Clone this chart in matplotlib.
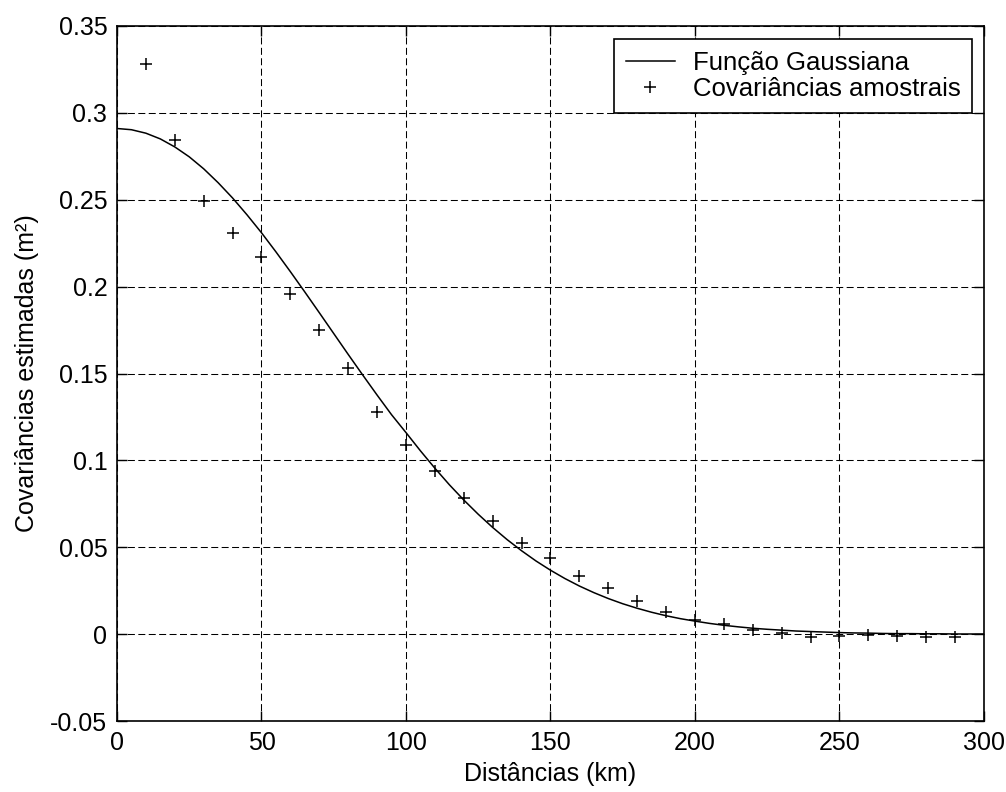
import matplotlib
matplotlib.use("Agg")
import matplotlib.pyplot as plt

matplotlib.rcParams["font.family"] = ["Liberation Sans", "DejaVu Sans"]

# curva gaussiana ajustada (passo de 5 km)
dist_curva = [0, 5, 10, 15, 20, 25, 30, 35, 40, 45, 50, 55, 60, 65, 70, 75,
              80, 85, 90, 95, 100, 105, 110, 115, 120, 125, 130, 135, 140, 145,
              150, 155, 160, 165, 170, 175, 180, 185, 190, 195, 200, 205, 210,
              215, 220, 225, 230, 235, 240, 245, 250, 255, 260, 265, 270, 275,
              280, 285, 290, 295, 300]
cov_curva = [0.2910, 0.2903, 0.2883, 0.2850, 0.2804, 0.2747, 0.2678, 0.2598,
             0.2510, 0.2413, 0.2310, 0.2200, 0.2086, 0.1969, 0.1850, 0.1730,
             0.1610, 0.1492, 0.1376, 0.1263, 0.1160, 0.1055, 0.0955, 0.0860,
             0.0772, 0.0690, 0.0614, 0.0544, 0.0480, 0.0421, 0.0368, 0.0320,
             0.0277, 0.0239, 0.0205, 0.0175, 0.0149, 0.0126, 0.0106, 0.0089,
             0.0075, 0.0062, 0.0051, 0.0042, 0.0034, 0.0028, 0.0023, 0.0018,
             0.0015, 0.0012, 0.0009, 0.0007, 0.0006, 0.0004, 0.0003, 0.0003,
             0.0002, 0.0002, 0.0001, 0.0001, 0.0001]

# covariâncias amostrais
dist_amostra = [10, 20, 30, 40, 50, 60, 70, 80, 90, 100, 110, 120, 130, 140,
                150, 160, 170, 180, 190, 200, 210, 220, 230, 240, 250, 260,
                270, 280, 290]
cov_amostra = [0.328, 0.2845, 0.249, 0.231, 0.217, 0.1956, 0.175, 0.153,
               0.128, 0.1086, 0.0937, 0.0783, 0.0653, 0.0523, 0.044, 0.0335,
               0.0268, 0.0191, 0.013, 0.0082, 0.0057, 0.0025, 0.0006, -0.0014,
               -0.0012, -0.0005, -0.001, -0.0015, -0.0015]

xticks = [0, 50, 100, 150, 200, 250, 300]
yticks = [-0.05, 0, 0.05, 0.1, 0.15, 0.2, 0.25, 0.3, 0.35]
ytick_labels = ["-0.05", "0", "0.05", "0.1", "0.15", "0.2", "0.25", "0.3", "0.35"]

fig = plt.figure(figsize=(10.06, 7.92), dpi=100)
ax = fig.add_axes([0.1163, 0.0896, 0.8618, 0.8776])

ax.plot(dist_curva, cov_curva, color="black", linewidth=1.1,
        label="Função Gaussiana")
ax.plot(dist_amostra, cov_amostra, linestyle="none", marker="+",
        markersize=8, markeredgewidth=1.1, color="black",
        label="Covariâncias amostrais")

ax.set_xlim(0, 300)
ax.set_ylim(-0.05, 0.35)
ax.set_xticks(xticks)
ax.set_xticklabels([str(t) for t in xticks])
ax.set_yticks(yticks)
ax.set_yticklabels(ytick_labels)

ax.grid(True, color="black", linestyle=(0, (6.7, 3.3)), linewidth=0.75)
ax.tick_params(direction="in", length=7, width=1, top=True, right=True,
               labelsize=18, pad=7)
for s in ax.spines.values():
    s.set_linewidth(1.2)

ax.set_xlabel("Distâncias (km)", fontsize=18, labelpad=5)
ax.set_ylabel("Covariâncias estimadas (m²)", fontsize=18, labelpad=8)

leg = ax.legend(loc="upper right", bbox_to_anchor=(0.986, 0.981),
                borderaxespad=0, fontsize=18.5, numpoints=1, handlelength=1.9,
                handletextpad=0.7, labelspacing=0.1, borderpad=0.45,
                fancybox=False, framealpha=1)
leg.get_frame().set_edgecolor("black")
leg.get_frame().set_linewidth(1.2)

fig.savefig("out.png", dpi=100)
